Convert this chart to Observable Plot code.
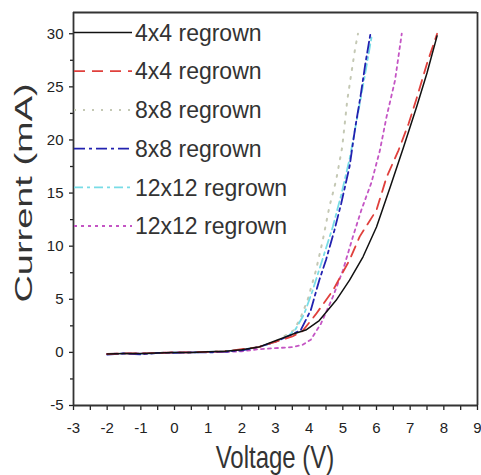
<!DOCTYPE html>
<html>
<head>
<meta charset="utf-8">
<script src="https://cdn.jsdelivr.net/npm/d3@7"></script>
<script src="https://cdn.jsdelivr.net/npm/@observablehq/plot@0.6"></script>
<style>
  html, body { margin: 0; padding: 0; background: #fff; }
  #chart { width: 481px; height: 475px; }
</style>
</head>
<body>
<div id="chart"></div>
<script>
// I–V sweeps of regrown devices (voltage in V, current in mA)
const seriesLabels = ["4x4 regrown", "4x4 regrown", "8x8 regrown", "8x8 regrown", "12x12 regrown", "12x12 regrown"];

const voltsA = [-2, -1.5, -1, -0.5, 0, 0.5, 1, 1.5, 2, 2.5, 3, 3.5, 3.9, 4.3, 4.8, 5.2, 5.6, 6.0, 6.4, 6.8, 7.2, 7.5, 7.8];
const currA  = [-0.15, -0.1, -0.1, -0.05, 0, 0, 0.05, 0.1, 0.25, 0.5, 1.1, 1.7, 2.1, 3.0, 4.9, 6.8, 9.0, 11.8, 15.5, 19.3, 23.2, 26.3, 29.8];

const voltsB = [-2, -1.5, -1, -0.5, 0, 0.5, 1, 1.5, 2, 2.5, 3, 3.5, 3.8, 4.2, 4.7, 5.2, 5.5, 6.0, 6.3, 6.65, 6.95, 7.2, 7.5, 7.8];
const currB  = [-0.15, -0.1, -0.1, -0.05, 0, 0, 0.05, 0.1, 0.3, 0.5, 1.0, 1.5, 2.0, 3.6, 5.8, 8.7, 10.9, 13.4, 16.5, 19.0, 21.5, 24.0, 27.2, 30.0];

const voltsC = [-2, -1.5, -1, -0.5, 0, 0.5, 1, 1.5, 2, 2.5, 3, 3.55, 3.75, 3.95, 4.2, 4.4, 4.6, 4.8, 4.98, 5.08, 5.13, 5.22, 5.37, 5.45];
const currC  = [-0.15, -0.1, -0.1, -0.05, 0, 0, 0.05, 0.1, 0.25, 0.5, 1.0, 2.1, 3.3, 4.9, 7.7, 10.5, 13.7, 16.2, 19.3, 22.2, 23.7, 25.6, 28.7, 30.0];

const voltsD = [-2, -1.5, -1, -0.5, 0, 0.5, 1, 1.5, 2, 2.5, 3, 3.5, 3.75, 4.05, 4.3, 4.5, 4.75, 4.95, 5.2, 5.37, 5.52, 5.67, 5.82];
const currD  = [-0.2, -0.1, -0.2, -0.05, -0.05, 0, 0, 0.05, 0.2, 0.5, 1.0, 1.7, 2.1, 4.0, 6.8, 8.7, 11.5, 14.0, 17.5, 21.2, 24.0, 27.2, 30.0];

const voltsE = [-2, -1.5, -1, -0.5, 0, 0.5, 1, 1.5, 2, 2.5, 3, 3.4, 3.6, 3.85, 4.1, 4.4, 4.7, 4.95, 5.2, 5.45, 5.65, 5.87];
const currE  = [-0.15, -0.1, -0.15, -0.05, 0, 0, 0.05, 0.1, 0.25, 0.5, 1.0, 1.6, 2.2, 3.6, 5.8, 8.8, 11.8, 14.8, 18.2, 22.5, 26.0, 30.0];

const voltsF = [-2, -1.5, -1, -0.5, 0, 0.5, 1, 1.5, 2, 2.5, 3, 3.5, 3.8, 4.05, 4.35, 4.7, 5.0, 5.3, 5.55, 5.85, 6.1, 6.3, 6.55, 6.75];
const currF  = [-0.15, -0.1, -0.1, -0.05, 0, 0, 0.05, 0.05, 0.1, 0.3, 0.4, 0.5, 0.7, 1.2, 2.7, 5.2, 7.7, 10.9, 13.4, 16.0, 19.0, 22.2, 25.6, 30.0];

const xTicks = [-3, -2, -1, 0, 1, 2, 3, 4, 5, 6, 7, 8, 9];
const yTicks = [-5, 0, 5, 10, 15, 20, 25, 30];
const xDomain = [-3, 9];
const yDomain = [-5, 32];

// Line styles, in legend order
const lineStyles = [
  {stroke: "#111111", dash: null,        width: 1.5},
  {stroke: "#e0403c", dash: "11,7",      width: 1.8},
  {stroke: "#c4c8b4", dash: "2,7",       width: 2},
  {stroke: "#2222b0", dash: "11,4,3,4",  width: 1.8},
  {stroke: "#78dce6", dash: "9,4,3,4",   width: 1.8},
  {stroke: "#c455c4", dash: "3,4",       width: 1.8}
];

const columns = [[voltsA, currA], [voltsB, currB], [voltsC, currC], [voltsD, currD], [voltsE, currE], [voltsF, currF]];
const tables = columns.map(([vs, is]) => vs.map((v, k) => ({v, i: is[k]})));

// draw lighter curves first, black on top
const drawOrder = [2, 4, 5, 3, 1, 0];
const lineMarks = drawOrder.map(s => Plot.line(tables[s], {
  x: "v", y: "i",
  stroke: lineStyles[s].stroke,
  strokeWidth: lineStyles[s].width,
  strokeDasharray: lineStyles[s].dash
}));

const fmt = d => String(d);

const chart = Plot.plot({
  width: 481,
  height: 475,
  marginLeft: 73,
  marginRight: 4,
  marginTop: 12,
  marginBottom: 70,
  style: {fontFamily: "'Liberation Sans', Arial, sans-serif", fontSize: "15px", color: "#222", background: "#fff"},
  x: {domain: xDomain},
  y: {domain: yDomain},
  marks: [
    ...lineMarks,
    Plot.axisX({ticks: xTicks, tickSize: 5, tickPadding: 12, tickFormat: fmt, label: null, strokeWidth: 1.3}),
    Plot.axisX({ticks: d3.range(-2.5, 9, 1), tickSize: 5, tickFormat: () => "", label: null, strokeWidth: 1.3}),
    Plot.axisY({ticks: yTicks, tickSize: 4, tickPadding: 6, tickFormat: fmt, label: null, strokeWidth: 1.3}),
    Plot.axisY({ticks: d3.range(-2.5, 31, 5), tickSize: 3, tickFormat: () => "", label: null, strokeWidth: 1.3}),
    // box around the plot area
    Plot.ruleX(xDomain, {stroke: "#333", strokeWidth: 1.8}),
    Plot.ruleY(yDomain, {stroke: "#333", strokeWidth: 1.8})
  ]
});

document.getElementById("chart").appendChild(chart);

// axis titles and in-plot legend
const svg = d3.select(chart);
const font = "'Liberation Sans', Arial, sans-serif";

svg.append("text")
  .attr("transform", "translate(32,193) rotate(-90) scale(1.65,1)")
  .attr("text-anchor", "middle")
  .attr("font-family", font)
  .attr("font-size", 23)
  .attr("fill", "#333")
  .text("Current (mA)");

svg.append("text")
  .attr("transform", "translate(275,468) scale(1,1.3)")
  .attr("text-anchor", "middle")
  .attr("font-family", font)
  .attr("font-size", 24)
  .attr("fill", "#333")
  .text("Voltage (V)");

const legend = svg.append("g");
seriesLabels.forEach((name, k) => {
  const yRow = 32.5 + k * 38.7;
  const st = lineStyles[k];
  legend.append("line")
    .attr("x1", 74).attr("x2", 132)
    .attr("y1", yRow).attr("y2", yRow)
    .attr("stroke", st.stroke)
    .attr("stroke-width", st.width)
    .attr("stroke-dasharray", st.dash);
  legend.append("text")
    .attr("x", 135).attr("y", yRow)
    .attr("dy", "0.36em")
    .attr("text-anchor", "start")
    .attr("font-family", font)
    .attr("font-size", 23)
    .attr("fill", "#333")
    .text(name);
});
</script>
</body>
</html>
